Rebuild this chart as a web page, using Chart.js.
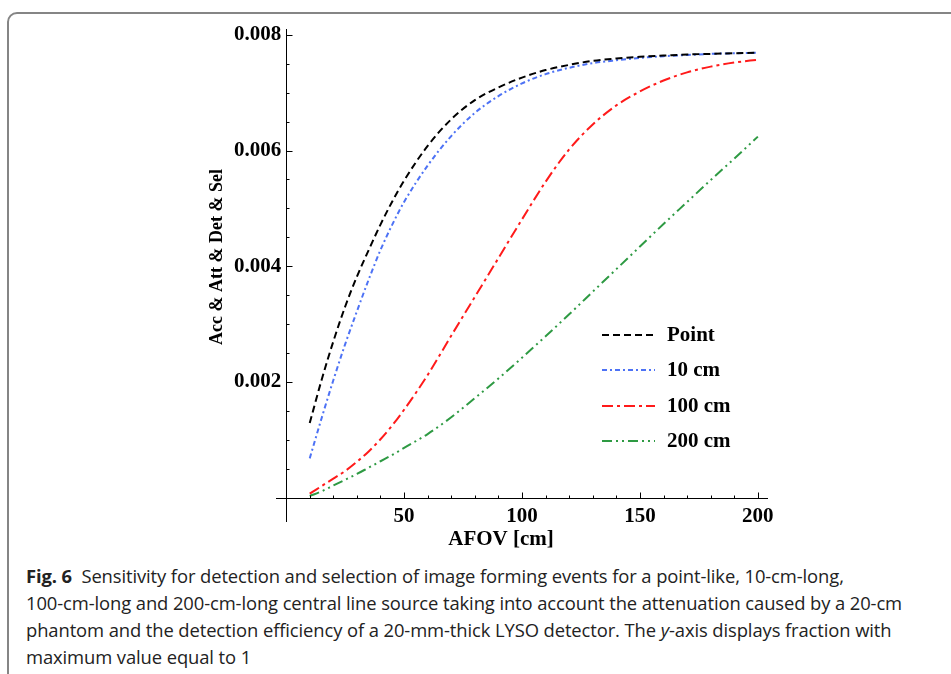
<!DOCTYPE html>
<html>
<head>
<meta charset="utf-8">
<script src="https://cdn.jsdelivr.net/npm/chart.js@4.4.1/dist/chart.umd.min.js"></script>
<style>
  html, body { margin: 0; padding: 0; background: #fff; }
  body { width: 951px; height: 674px; position: relative; overflow: hidden; }
  #frame {
    position: absolute; left: 7px; top: 12px; width: 1000px; height: 700px;
    border: 2px solid #858585; border-top-left-radius: 10px; box-sizing: border-box;
  }
  #plot { position: absolute; left: 0; top: 0; }
  #caption {
    position: absolute; left: 26px; top: 562px;
    font-family: "Open Sans", sans-serif; font-size: 18.4px; line-height: 27px;
    color: #222; white-space: nowrap; letter-spacing: -0.1px;
  }
  #caption b { font-weight: 700; }
</style>
</head>
<body>
<div id="frame"></div>
<canvas id="plot" width="951" height="560"></canvas>
<div id="caption">
  <div><b>Fig. 6</b>&nbsp; Sensitivity for detection and selection of image forming events for a point-like, 10-cm-long,</div>
  <div>100-cm-long and 200-cm-long central line source taking into account the attenuation caused by a 20-cm</div>
  <div>phantom and the detection efficiency of a 20-mm-thick LYSO detector. The <i>y</i>-axis displays fraction with</div>
  <div>maximum value equal to 1</div>
</div>
<script>
// AFOV in cm
const afov = [10, 15, 20, 25, 30, 35, 40, 45, 50, 60, 70, 80, 90, 100, 110, 120, 130, 140, 150, 160, 170, 180, 190, 200];

// sensitivity values
const pointSrc = [0.00129, 0.00203, 0.00270, 0.00330, 0.00382, 0.00428, 0.00472, 0.00512, 0.00548, 0.00608, 0.00654, 0.00687, 0.00709, 0.00726,
  0.00739, 0.00748, 0.00755, 0.00759, 0.00762, 0.00764, 0.00766, 0.00767, 0.00768, 0.00769];
const line10 = [0.00068, 0.00137, 0.00203, 0.00265, 0.00322, 0.00377, 0.00428, 0.00472, 0.00511, 0.00574, 0.00625, 0.00665, 0.00694, 0.00716,
  0.00732, 0.00743, 0.00751, 0.00756, 0.00760, 0.00763, 0.00765, 0.00767, 0.00768, 0.00769];
const line100 = [0.00007, 0.00020, 0.00033, 0.00046, 0.00062, 0.00080, 0.00101, 0.00125, 0.00152, 0.00212, 0.00280, 0.00347, 0.00414, 0.00481,
  0.00546, 0.00602, 0.00645, 0.00678, 0.00702, 0.00721, 0.00735, 0.00745, 0.00752, 0.00757];
const line200 = [0.00003, 0.00011, 0.00021, 0.00031, 0.00041, 0.00052, 0.00063, 0.00074, 0.00086, 0.00110, 0.00139, 0.00172, 0.00206, 0.00242,
  0.00279, 0.00317, 0.00356, 0.00395, 0.00434, 0.00473, 0.00511, 0.00549, 0.00586, 0.00624];

const seriesNames = ['Point', '10 cm', '100 cm', '200 cm'];
const xTicks = [50, 100, 150, 200];
const yTicks = [0.002, 0.004, 0.006, 0.008];

const styles = [
  { color: '#000000', dash: [7, 4] },
  { color: '#4d72f5', dash: [5, 3, 2, 3] },
  { color: '#ff1a1a', dash: [11, 4, 3, 4] },
  { color: '#2e9a43', dash: [10, 4, 2, 4, 2, 4] }
];

const serifBold = '"Liberation Serif", "Times New Roman", serif';

function toPoints(ys) {
  return afov.map((x, i) => ({ x: x, y: ys[i] }));
}

// axes through the origin with inward ticks, like the original
const axesPlugin = {
  id: 'axesPlugin',
  afterDatasetsDraw(chart) {
    const ctx = chart.ctx;
    const xs = chart.scales.x, ys = chart.scales.y;
    const area = chart.chartArea;
    const x0 = Math.round(xs.getPixelForValue(0)) + 0.5;
    const y0 = Math.round(ys.getPixelForValue(0)) + 0.5;
    ctx.save();
    ctx.strokeStyle = '#000';
    ctx.lineWidth = 1;
    ctx.beginPath();
    ctx.moveTo(area.left, y0); ctx.lineTo(area.right, y0);
    ctx.moveTo(x0, area.top); ctx.lineTo(x0, area.bottom);
    for (let v = 10; v <= 200; v += 10) {
      const px = Math.round(xs.getPixelForValue(v)) + 0.5;
      const len = v % 50 === 0 ? 6 : 3;
      ctx.moveTo(px, y0); ctx.lineTo(px, y0 - len);
    }
    for (let k = 1; k <= 16; k++) {
      const v = k * 0.0005;
      const py = Math.round(ys.getPixelForValue(v)) + 0.5;
      const len = k % 4 === 0 ? 6 : 3;
      ctx.moveTo(x0, py); ctx.lineTo(x0 + len, py);
    }
    ctx.stroke();

    // axis titles
    ctx.fillStyle = '#000';
    ctx.font = 'bold 21px ' + serifBold;
    ctx.textAlign = 'center';
    ctx.textBaseline = 'alphabetic';
    ctx.fillText('AFOV [cm]', 501, 545);
    ctx.save();
    ctx.translate(222, 257);
    ctx.rotate(-Math.PI / 2);
    ctx.font = 'bold 18px ' + serifBold;
    ctx.fillText('Acc & Att & Det & Sel', 0, 0);
    ctx.restore();

    // legend inside the plot
    ctx.textAlign = 'left';
    ctx.textBaseline = 'middle';
    ctx.font = 'bold 21px ' + serifBold;
    const rows = [335, 370, 406, 441];
    chart.data.datasets.forEach((ds, i) => {
      ctx.strokeStyle = ds.borderColor;
      ctx.lineWidth = 2;
      ctx.setLineDash(ds.borderDash);
      ctx.beginPath();
      ctx.moveTo(602, rows[i]); ctx.lineTo(655, rows[i]);
      ctx.stroke();
      ctx.setLineDash([]);
      ctx.fillText(ds.label, 667, rows[i] + 1);
    });
    ctx.restore();
  }
};

const datasets = [pointSrc, line10, line100, line200].map((ys, i) => ({
  label: seriesNames[i],
  data: toPoints(ys),
  borderColor: styles[i].color,
  borderDash: styles[i].dash,
  borderWidth: 2,
  pointRadius: 0,
  cubicInterpolationMode: 'monotone',
  fill: false
}));

new Chart(document.getElementById('plot'), {
  type: 'line',
  data: { datasets: datasets },
  options: {
    responsive: false,
    animation: false,
    layout: { padding: { left: 276, right: 183, top: 29, bottom: 38 } },
    plugins: { legend: { display: false }, tooltip: { enabled: false } },
    scales: {
      x: {
        type: 'linear',
        min: -4.3,
        max: 204.3,
        position: { y: 0 },
        grid: { display: false },
        border: { display: false },
        afterBuildTicks: axis => { axis.ticks = xTicks.map(v => ({ value: v })); },
        ticks: {
          padding: -2,
          maxRotation: 0,
          color: '#000',
          font: { family: serifBold, size: 21, weight: 'bold' }
        }
      },
      y: {
        type: 'linear',
        min: -0.00042,
        max: 0.0081,
        position: { x: -2.1 },
        grid: { display: false },
        border: { display: false },
        afterBuildTicks: axis => { axis.ticks = yTicks.map(v => ({ value: v })); },
        ticks: {
          color: '#000',
          font: { family: serifBold, size: 21, weight: 'bold' },
          callback: v => v.toFixed(3)
        }
      }
    }
  },
  plugins: [axesPlugin]
});
</script>
</body>
</html>
